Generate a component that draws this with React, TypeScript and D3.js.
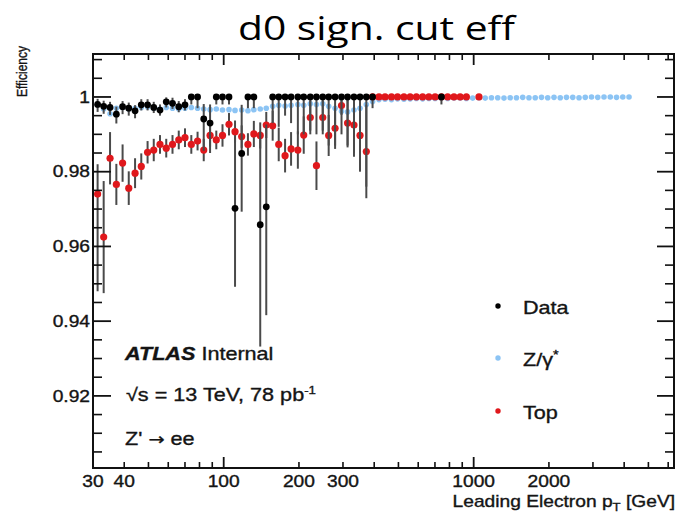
import React from "react";
import * as d3 from "d3";

// Leading-electron pT bin centres (GeV)
const BIN_PT = [
  31.3, 33.1, 35.1, 37.2, 39.4, 41.7, 44.2, 46.8, 49.6, 52.5,
  55.6, 58.9, 62.4, 66.1, 70.0, 74.2, 78.6, 83.2, 88.2, 93.4,
  98.9, 105, 111, 118, 125, 132, 140, 148, 157, 166,
  176, 186, 198, 209, 222, 235, 249, 263, 279, 296,
  313, 332, 351, 372, 394, 418, 442, 469, 496, 526,
  557, 590, 625, 662, 701, 743, 787, 834, 883, 935,
  991, 1050, 1112, 1178, 1248, 1322, 1400, 1483, 1571, 1664,
  1763, 1868, 1978, 2096, 2220, 2351, 2491, 2639, 2795, 2961,
  3136, 3322, 3519, 3728, 3949, 4183,
];

// Data efficiency with asymmetric errors (null = empty bin)
const DATA_EFF: (number | null)[] = [
  0.998, 0.9975, 0.9972, 0.9954, 0.9974, 0.997, 0.9963, 0.9979, 0.9979, 0.9972,
  0.9965, 0.9987, 0.9983, 0.9974, 0.9979, 1.0, 1.0, 0.9941, 0.993, 1.0,
  1.0, 1.0, 0.9702, 0.9849, 1.0, 1.0, 0.9658, 0.9706, 1.0, 1.0,
  1.0, 1.0, 1.0, 1.0, 1.0, 1.0, 1.0, 1.0, 1.0, 1.0,
  1.0, 1.0, 1.0, 1.0, 1.0, null, null, null, null, null,
  null, null, null, null, null, 1.0,
];
const DATA_LO = [
  0.002, 0.002, 0.002, 0.0025, 0.002, 0.002, 0.002, 0.0015, 0.0015, 0.0015,
  0.0015, 0.0015, 0.0015, 0.0015, 0.0015, 0.002, 0.003, 0.0085, 0.008, 0.002,
  0.002, 0.002, 0.021, 0.0156, 0.003, 0.003, 0.0326, 0.029, 0.007, 0.008,
  0.005, 0.007, 0.01, 0.01, 0.009, 0.01, 0.009, 0.013, 0.013, 0.01,
  0.013, 0.016, 0.02, 0.024, 0.003, 0, 0, 0, 0, 0,
  0, 0, 0, 0, 0, 0.002,
];
const DATA_HI = [
  0.0015, 0.0015, 0.0015, 0.002, 0.0015, 0.0015, 0.0015, 0.0015, 0.0015, 0.0015,
  0.0015, 0.0012, 0.0015, 0.0015, 0.0015, 0, 0, 0.004, 0.005, 0,
  0, 0, 0.019, 0.013, 0, 0, 0.025, 0.022,
];

// Z/gamma* simulation efficiency
const ZG_EFF: (number | null)[] = [
  0.998, 0.9968, 0.9955, 0.997, 0.9972, 0.9968, 0.997, 0.9972, 0.9973, 0.997,
  0.9968, 0.9972, 0.997, 0.9968, 0.997, 0.9972, 0.997, 0.9968, 0.9966, 0.9968,
  0.9965, 0.9966, 0.9964, 0.9965, 0.9963, 0.9966, 0.9968, 0.997, 0.9975, 0.9978,
  0.9976, 0.9978, 0.998, 0.9978, 0.9982, 0.998, 0.9982, 0.9975, 0.997, 0.9962,
  0.996, 0.9965, 0.997, 0.998, 0.9988, 0.9993, 0.9994, 0.9993, 0.9995, 0.9994,
  0.9995, 0.9996, 0.9995, 0.9996, 0.9996, 0.9997, 0.9996, 0.9997, 0.9997, 0.9996,
  0.9997, 0.9998, 0.9997, 0.9998, 0.9998, 0.9997, 0.9998, 0.9998, 0.9999, 0.9998,
  0.9998, 0.9999, 0.9998, 0.9999, 0.9998, 0.9999, 0.9999, 0.9998, 0.9999, 1.0,
  0.9999, 1.0, 1.0, 0.9999, 1.0, 1.0,
];

// Top simulation efficiency with errors
const TOP_EFF: (number | null)[] = [
  0.974, 0.9625, 0.9836, 0.9766, 0.9823, 0.9756, 0.9796, 0.9814, 0.9852, 0.9858,
  0.9873, 0.9863, 0.9873, 0.9885, 0.9891, 0.9873, 0.9882, 0.9858, 0.9897, 0.9885,
  0.9897, 0.9927, 0.9907, 0.9894, 0.9873, 0.9901, 0.9897, 0.9925, 0.9923, 0.9873,
  0.9843, 0.9861, 0.9858, 0.9898, 0.9945, 0.9816, 0.9945, 0.9897, 0.9916, 0.9977,
  0.993, 0.9925, 0.9897, 0.9854, 1.0, 1.0, 1.0, 1.0, 1.0, 1.0,
  1.0, 1.0, 1.0, 1.0, 1.0, 1.0, 1.0, 1.0, 1.0, 1.0,
  null, 1.0,
];
const TOP_LO = [
  0.026, 0.015, 0.007, 0.0055, 0.005, 0.0045, 0.004, 0.0035, 0.003, 0.003,
  0.0025, 0.0025, 0.0025, 0.0025, 0.0025, 0.0025, 0.0025, 0.003, 0.003, 0.0025,
  0.003, 0.003, 0.003, 0.003, 0.003, 0.0035, 0.0035, 0.0035, 0.004, 0.0045,
  0.0045, 0.0045, 0.005, 0.005, 0.0045, 0.0065, 0.0045, 0.0055, 0.0055, 0.0025,
  0.0065, 0.0075, 0.0085, 0.0125,
];
const TOP_HI = [
  0.008, 0.015, 0.007, 0.0055, 0.005, 0.0045, 0.004, 0.0035, 0.003, 0.003,
  0.0025, 0.0025, 0.0025, 0.0025, 0.0025, 0.0025, 0.0025, 0.003, 0.003, 0.0025,
  0.003, 0.003, 0.003, 0.003, 0.003, 0.0035, 0.0035, 0.0035, 0.004, 0.0045,
  0.0045, 0.0045, 0.005, 0.005, 0.0045, 0.0065, 0.0045, 0.0055, 0.0055, 0.0025,
  0.0065, 0.0075, 0.0085, 0.0125,
];

const X_LABELS = [30, 40, 100, 200, 300, 1000, 2000];
const X_MAJOR = [100, 1000];
const X_MINOR = [40, 50, 60, 70, 80, 90, 200, 300, 400, 500, 600, 700, 800, 900, 2000, 3000, 4000, 5000, 6000];
const Y_MAJOR = [0.92, 0.94, 0.96, 0.98, 1.0];
const Y_LABELS = ["0.92", "0.94", "0.96", "0.98", "1"];

const LEGEND = [
  { key: "data", label: "Data", color: "#000000" },
  { key: "zg", label: "Z/γ", sup: "*", color: "#8cc4f4" },
  { key: "top", label: "Top", color: "#e0181c" },
];

const W = 678;
const H = 514;
const X0 = 93, X1 = 674, Y0 = 54, Y1 = 468;
const SX = 1.2; // horizontal text stretch
const FONT = "'Liberation Sans', Arial, Helvetica, sans-serif";
const INK = "#141414";
const ERR = "#4a4a4a";

const x = d3.scaleLog().domain([30, 6330]).range([X0, X1]);
const y = d3.scaleLinear().domain([0.9007, 1.0115]).range([Y1, Y0]);

function SText(props: any) {
  const { x: tx, y: ty, anchor = "start", size = 18, children, ...rest } = props;
  return (
    <text
      transform={`translate(${tx},${ty}) scale(${SX},1)`}
      textAnchor={anchor}
      fontSize={size}
      fontFamily={FONT}
      fill={INK}
      stroke={INK}
      strokeWidth={0.35}
      {...rest}
    >
      {children}
    </text>
  );
}

function Series({ eff, lo, hi, color, r }: any) {
  const pts = eff
    .map((v: number | null, i: number) => ({ v, i }))
    .filter((d: any) => d.v !== null);
  return (
    <g>
      {lo &&
        pts.map((d: any) => {
          const l = lo[d.i] ?? 0;
          const h = hi?.[d.i] ?? 0;
          if (l === 0 && h === 0) return null;
          const top = Math.min(1.0, d.v + h);
          return (
            <line
              key={"e" + d.i}
              x1={x(BIN_PT[d.i])}
              x2={x(BIN_PT[d.i])}
              y1={y(top)}
              y2={y(d.v - l)}
              stroke={ERR}
              strokeWidth={2}
            />
          );
        })}
      {pts.map((d: any) => (
        <circle key={"p" + d.i} cx={x(BIN_PT[d.i])} cy={y(d.v)} r={r} fill={color} />
      ))}
    </g>
  );
}

export default function App() {
  const yMinor = d3.range(0.905, 1.0115, 0.005).filter(
    (v) => !Y_MAJOR.some((m) => Math.abs(m - v) < 1e-6)
  );
  return (
    <svg width={W} height={H} style={{ display: "block", position: "absolute", left: 0, top: 0, background: "#fff" }}>
      <rect x={0} y={0} width={W} height={H} fill="#fff" />

      {/* title */}
      <text
        x={238}
        y={40}
        fontFamily="'Open Sans', 'Noto Sans', sans-serif"
        fontSize={33}
        textLength={277}
        lengthAdjust="spacingAndGlyphs"
        fill="#000"
      >
        d0 sign. cut eff
      </text>

      {/* series */}
      <Series eff={ZG_EFF} color="#8cc4f4" r={2.8} />
      <Series eff={TOP_EFF} lo={TOP_LO} hi={TOP_HI} color="#e0181c" r={3.6} />
      <Series eff={DATA_EFF} lo={DATA_LO} hi={DATA_HI} color="#000" r={3.4} />

      {/* frame */}
      <rect x={X0} y={Y0} width={X1 - X0} height={Y1 - Y0} fill="none" stroke="#111" strokeWidth={2} />

      {/* x ticks (bottom and top) */}
      {X_MINOR.map((t) => (
        <g key={"xm" + t}>
          <line x1={x(t)} x2={x(t)} y1={Y1} y2={Y1 - 6} stroke="#111" strokeWidth={1.6} />
          <line x1={x(t)} x2={x(t)} y1={Y0} y2={Y0 + 6} stroke="#111" strokeWidth={1.6} />
        </g>
      ))}
      {X_MAJOR.map((t) => (
        <g key={"xM" + t}>
          <line x1={x(t)} x2={x(t)} y1={Y1} y2={Y1 - 11} stroke="#111" strokeWidth={1.8} />
          <line x1={x(t)} x2={x(t)} y1={Y0} y2={Y0 + 11} stroke="#111" strokeWidth={1.8} />
        </g>
      ))}
      {X_LABELS.map((t) => (
        <SText key={"xl" + t} x={x(t)} y={487} anchor="middle" size={16}>
          {t}
        </SText>
      ))}

      {/* y ticks (left and right) */}
      {yMinor.map((t) => (
        <g key={"ym" + t}>
          <line x1={X0} x2={X0 + 9} y1={y(t)} y2={y(t)} stroke="#111" strokeWidth={1.6} />
          <line x1={X1} x2={X1 - 9} y1={y(t)} y2={y(t)} stroke="#111" strokeWidth={1.6} />
        </g>
      ))}
      {Y_MAJOR.map((t, i) => (
        <g key={"yM" + t}>
          <line x1={X0} x2={X0 + 18} y1={y(t)} y2={y(t)} stroke="#111" strokeWidth={1.8} />
          <line x1={X1} x2={X1 - 17} y1={y(t)} y2={y(t)} stroke="#111" strokeWidth={1.8} />
          <SText x={90} y={y(t) + 5.8} anchor="end" size={16}>
            {Y_LABELS[i]}
          </SText>
        </g>
      ))}

      {/* axis titles */}
      <SText x={675} y={507} anchor="end" size={16}>
        Leading Electron p
        <tspan fontSize={11} dy={4}>T</tspan>
        <tspan dy={-4}> [GeV]</tspan>
      </SText>
      <text
        transform={`translate(27,46) rotate(-90) scale(1,${SX})`}
        textAnchor="end"
        fontSize={12}
        fontFamily={FONT}
        fill={INK}
        stroke={INK}
        strokeWidth={0.3}
      >
        Efficiency
      </text>

      {/* ATLAS labels */}
      <SText x={125} y={360} size={18}>
        <tspan fontWeight="bold" fontStyle="italic">ATLAS</tspan>
        <tspan> Internal</tspan>
      </SText>
      <SText x={126} y={400.5} size={18}>
        √s = 13 TeV, 78 pb
        <tspan fontSize={11} dy={-7}>-1</tspan>
      </SText>
      <SText x={125} y={445} size={18}>
        Z'
        <tspan fontFamily="'DejaVu Sans', sans-serif" fontSize={16}> → </tspan>
        ee
      </SText>

      {/* legend */}
      {LEGEND.map((l, i) => {
        const cy = [306, 358, 411][i];
        return (
          <g key={l.key}>
            <circle cx={498} cy={cy} r={2.7} fill={l.color} />
            <SText x={523} y={cy + 7.5} size={18}>
              {l.label}
              {l.sup && <tspan fontSize={12} dy={-7}>{l.sup}</tspan>}
            </SText>
          </g>
        );
      })}
    </svg>
  );
}
